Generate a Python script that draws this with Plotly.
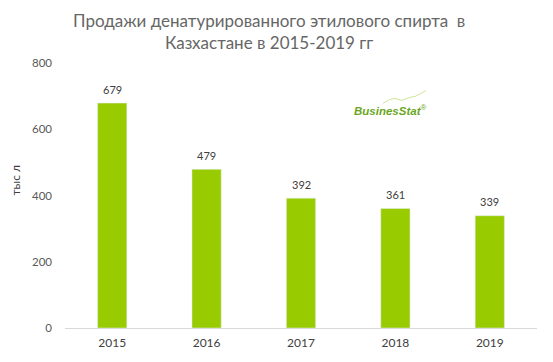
import plotly.graph_objects as go

years = ["2015", "2016", "2017", "2018", "2019"]
values = [679, 479, 392, 361, 339]
y_ticks = [0, 200, 400, 600, 800]

FONT = "Lato, Open Sans, DejaVu Sans, sans-serif"

fig = go.Figure(go.Bar(
    x=years, y=values, marker_color="#99cc00", width=0.31,
))
# value labels (category index on the category axis)
for i, v in enumerate(values):
    fig.add_annotation(x=i, y=v, xref="x", yref="y", text=str(v), showarrow=False,
                       yanchor="middle", yshift=14,
                       font=dict(size=11, color="#404040", family=FONT))
fig.update_layout(
    width=545, height=354,
    margin=dict(l=57, r=16, t=55, b=30),
    paper_bgcolor="white", plot_bgcolor="white",
    font=dict(family=FONT, color="#595959"),
    showlegend=False,
)
fig.update_xaxes(type="category", range=[-0.5, len(years) - 0.5], showline=True,
                 linecolor="#d9d9d9", linewidth=1, ticks="",
                 tickfont=dict(size=12, color="#404040"), showgrid=False, ticklabelstandoff=4)
fig.update_yaxes(range=[0, 800], tickvals=y_ticks, showgrid=False, zeroline=False,
                 tickfont=dict(size=11.5, color="#595959"), ticklabelstandoff=12)
# title
fig.add_annotation(xref="paper", yref="paper", x=0.432, y=1.119, xanchor="center", yanchor="middle",
                   text="Продажи денатурированного этилового спирта  в<br>Казхастане в 2015-2019 гг",
                   showarrow=False, align="center",
                   font=dict(size=17, color="#666666", family=FONT))
# y-axis title
fig.add_annotation(xref="paper", yref="paper", x=-0.105, y=0.558, xanchor="center", yanchor="middle",
                   text="тыс л", textangle=-90, showarrow=False,
                   font=dict(size=12, color="#404040", family=FONT))
# logo
fig.add_annotation(xref="paper", yref="paper", x=0.689, y=0.822, xanchor="center", yanchor="middle",
                   text="<b><i>BusinesStat</i></b><sup>®</sup>", showarrow=False,
                   font=dict(size=11.5, color="#6aa622", family="Liberation Sans, Arial"))
fig.add_shape(type="path", xref="paper", yref="paper",
              path="M 0.674 0.848 Q 0.688 0.866 0.699 0.866 L 0.714 0.859 Q 0.735 0.874 0.742 0.874 L 0.765 0.896",
              line=dict(color="#cfe59a", width=1))
fig.write_html("out.html")
